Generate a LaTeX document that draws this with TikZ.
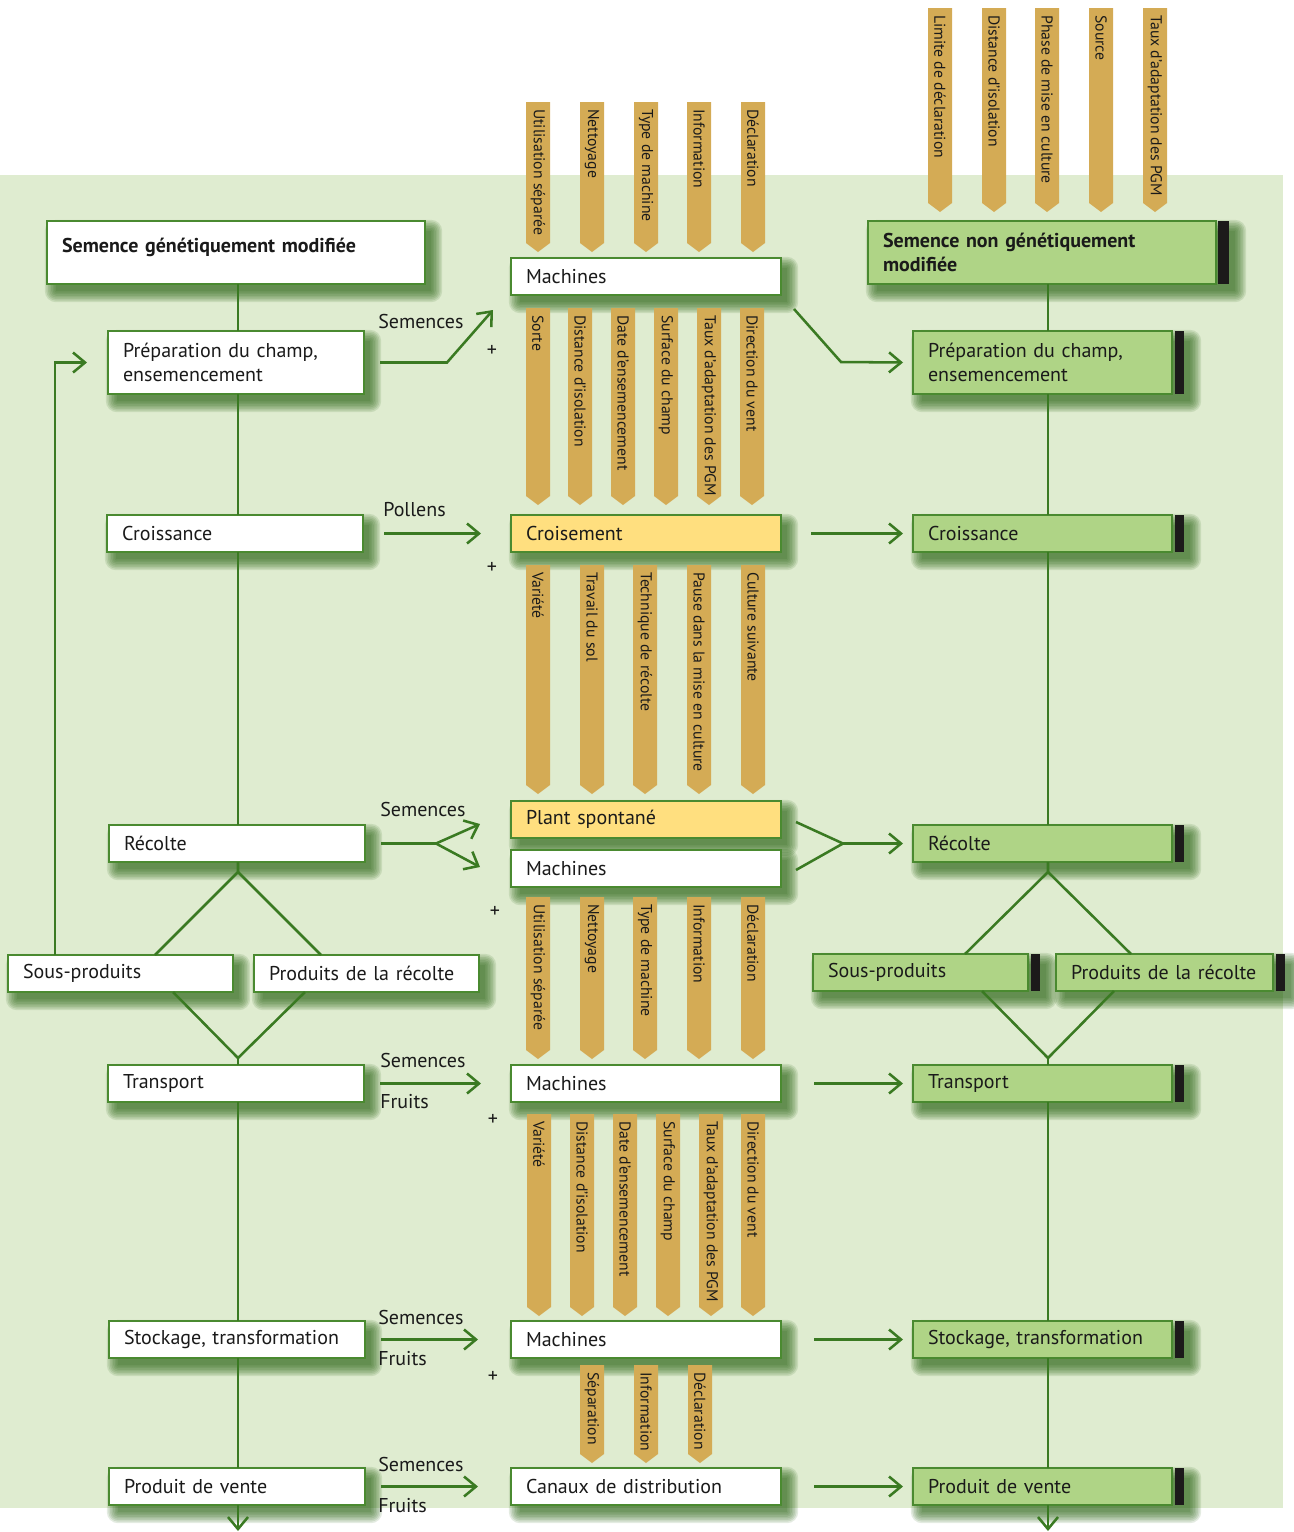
\documentclass[tikz,border=0pt]{standalone}
\usepackage{fontspec}
\setmainfont{PT Sans}
\usetikzlibrary{arrows.meta,calc}
\pgfdeclarelayer{bgl}
\pgfdeclarelayer{shadow}
\pgfsetlayers{bgl,shadow,main}
\definecolor{bgc}{HTML}{DFECD0}
\definecolor{bordc}{HTML}{4A8A30}
\definecolor{linec}{HTML}{3A7A22}
\definecolor{tagc}{HTML}{D4AB55}
\definecolor{yel}{HTML}{FFDF7F}
\definecolor{lgreen}{HTML}{AFD486}
\definecolor{barc}{HTML}{1C1A1A}
\definecolor{shc}{HTML}{2A6414}
\definecolor{txt}{HTML}{1A1A1A}
\tikzset{
 conn/.style={draw=linec, line width=1.9pt},
 arr/.style={conn, -{Straight Barb[length=9pt,width=15pt]}},
 shlayer/.style={fill=shc, opacity=0.13},
 box/.style={draw=bordc, line width=1.1pt, inner xsep=11.25pt, inner ysep=0pt, outer sep=0pt,
   align=left, anchor=north west, text=txt, font=\fontsize{15}{18}\selectfont},
 wbox/.style={box, fill=white},
 ybox/.style={box, fill=yel},
 gbox/.style={box, fill=lgreen},
 hone/.style={minimum height=27.75pt},
 htwo/.style={minimum height=47.25pt},
 wL/.style={text width=169.5pt},
 wLS/.style={text width=261pt},
 wLs/.style={text width=146.25pt},
 wM/.style={text width=180pt},
 wR/.style={text width=171.75pt},
 wRS/.style={text width=238.5pt},
 wRa/.style={text width=138.75pt},
 wRb/.style={text width=140.25pt},
 lab/.style={font=\fontsize{15}{18}\selectfont, text=txt, inner sep=0pt, anchor=west},
 plus/.style={font=\fontsize{15}{15}\selectfont, text=txt, inner sep=0pt},
 tagtext/.style={rotate=-90, anchor=west, inner sep=0pt, font=\fontsize{11.8}{13}\selectfont, text=txt},
 barstyle/.style={fill=barc}
}
\newcommand\shadowof[3]{% node name, right extra, dummy
  \begin{pgfonlayer}{shadow}
  \foreach \i in {0,...,7} {
    \fill[shlayer, rounded corners=\i*1.2pt]
      ($(#1.north west)+(9-1.6*\i,10-1.6*\i)$) rectangle ($(#1.south east)+(6+#2+1.6*\i,7+1.6*\i)$);
  }
  \end{pgfonlayer}}
\newcommand\tagshape[5]{%
  \fill[tagc] (#2-12,#3) -- (#2+12,#3) -- (#2+12,#4-9) -- (#2,#4) -- (#2-12,#4-9) -- cycle;
  \node[tagtext] (#1) at (#2,#3+7) {#5};}
\newcommand\barfor[1]{\path[barstyle] ($(#1.north east)+(3,0)$) rectangle ($(#1.south east)+(12,0)$);}
\begin{document}
\begin{tikzpicture}[x=0.75pt,y=-0.75pt]
\useasboundingbox (0,0) rectangle (1293,1532);
\begin{pgfonlayer}{bgl}
\fill[bgc] (0,175) rectangle (1283,1508);
\end{pgfonlayer}
\coordinate (lx) at (238,0);
\coordinate (rx) at (1048,0);
% left column
\node[wbox,wLS,htwo] (lsem) at (47,221) {\textbf{Semence génétiquement modifiée}\\[-7pt]\mbox{}};
\node[wbox,wL,htwo] (lprep) at (108,331) {Préparation du champ,\\ensemencement};
\node[wbox,wL,hone] (lcroi) at (107,515) {Croissance};
\node[wbox,wL,hone] (lrec) at (109,825) {Récolte};
\node[wbox,wLs,hone] (lsous) at (8,955) {Sous-produits};
\node[wbox,wLs,hone] (lprod) at (254,955) {Produits de la récolte};
\node[wbox,wL,hone] (ltrans) at (108,1065) {Transport};
\node[wbox,wL,hone] (lstock) at (109,1321) {Stockage, transformation};
\node[wbox,wL,hone] (lvente) at (109,1468) {Produit de vente};
% middle column
\node[wbox,wM,hone] (m1) at (511,258) {Machines};
\node[ybox,wM,hone] (mcroi) at (511,515) {Croisement};
\node[ybox,wM,hone] (mplant) at (511,801) {Plant spontané};
\node[wbox,wM,hone] (m2) at (511,850) {Machines};
\node[wbox,wM,hone] (m3) at (511,1065) {Machines};
\node[wbox,wM,hone] (m4) at (511,1321) {Machines};
\node[wbox,wM,hone] (mcan) at (511,1468) {Canaux de distribution};
% right column
\node[gbox,wRS,htwo] (rsem) at (868,221) {\textbf{Semence non génétiquement}\\\textbf{modifiée}};
\node[gbox,wR,htwo] (rprep) at (913,331) {Préparation du champ,\\ensemencement};
\node[gbox,wR,hone] (rcroi) at (913,515) {Croissance};
\node[gbox,wR,hone] (rrec) at (913,825) {Récolte};
\node[gbox,wRa,hone] (rsous) at (813,954) {Sous-produits};
\node[gbox,wRb,hone] (rprod) at (1056,954) {Produits de la récolte};
\node[gbox,wR,hone] (rtrans) at (913,1065) {Transport};
\node[gbox,wR,hone] (rstock) at (913,1321) {Stockage, transformation};
\node[gbox,wR,hone] (rvente) at (913,1468) {Produit de vente};
\path[barstyle] ($(rsem.north east)+(2,0)$) rectangle ($(rsem.south east)+(13,0)$);
\barfor{rprep}\barfor{rcroi}\barfor{rrec}\barfor{rsous}\barfor{rprod}
\barfor{rtrans}\barfor{rstock}\barfor{rvente}
% shadows
\foreach \n in {lsem,lprep,lcroi,lrec,lsous,lprod,ltrans,lstock,lvente,m1,mcroi,mplant,m2,m3,m4,mcan}{\shadowof{\n}{0}{}}
\shadowof{rsem}{13}{}
\foreach \n in {rprep,rcroi,rrec,rsous,rprod,rtrans,rstock,rvente}{\shadowof{\n}{12}{}}
% left connectors
\coordinate (ldtop) at (238,872);
\coordinate (ldbot) at (238,1058);
\draw[conn] (lsem.south -| lx) -- (lprep.north -| lx);
\draw[conn] (lprep.south -| lx) -- (lcroi.north -| lx);
\draw[conn] (lcroi.south -| lx) -- (lrec.north -| lx);
\draw[conn] (lrec.south -| lx) -- (ldtop) -- ($(lsous.north east)+(-78,0)$);
\draw[conn] (ldtop) -- ($(lprod.north west)+(67,0)$);
\draw[conn] ($(lsous.south east)+(-60,0)$) -- (ldbot) -- ($(lprod.south west)+(51,0)$);
\draw[conn] (ldbot) -- (ltrans.north -| lx);
\draw[conn] (ltrans.south -| lx) -- (lstock.north -| lx);
\draw[conn] (lstock.south -| lx) -- (lvente.north -| lx);
\draw[arr] (lvente.south -| lx) -- ++(0,26);
\draw[arr] ($(lsous.north west)+(47,0)$) |- ($(lprep.west)+(-21,0)$);
% right connectors
\coordinate (rdtop) at (1048,872);
\coordinate (rdbot) at (1048,1058);
\draw[conn] (rsem.south -| rx) -- (rprep.north -| rx);
\draw[conn] (rprep.south -| rx) -- (rcroi.north -| rx);
\draw[conn] (rcroi.south -| rx) -- (rrec.north -| rx);
\draw[conn] (rrec.south -| rx) -- (rdtop) -- ($(rsous.north east)+(-63,0)$);
\draw[conn] (rdtop) -- ($(rprod.north west)+(75,0)$);
\draw[conn] ($(rsous.south east)+(-46,0)$) -- (rdbot) -- ($(rprod.south west)+(58,0)$);
\draw[conn] (rdbot) -- (rtrans.north -| rx);
\draw[conn] (rtrans.south -| rx) -- (rstock.north -| rx);
\draw[conn] (rstock.south -| rx) -- (rvente.north -| rx);
\draw[arr] (rvente.south -| rx) -- ++(0,26);
% horizontal flows
\coordinate (m1in) at (493,310);
\coordinate (m1out) at (794,309);
\draw[arr] ($(lprep.east)+(16,0)$) -- ++(67,0) -- (m1in);
\draw[arr] (m1out) -- ++(47,53) -- ($(rprep.west)+(-10,0)$);
\draw[arr] ($(lcroi.east)+(21,0)$) -- ($(mcroi.west)+(-30,0)$);
\draw[arr] ($(mcroi.east)+(30,0)$) -- ($(rcroi.west)+(-10,0)$);
\draw[conn] ($(lrec.east)+(16,0)$) -- ++(55,0) coordinate (fk);
\draw[arr] (fk) -- ($(mplant.west)+(-31,4.5)$);
\draw[arr] (fk) -- ($(m2.west)+(-31,-1.5)$);
\coordinate (jn) at ($(rrec.west)+(-70,0)$);
\draw[conn] ($(mplant.east)+(15,2.5)$) -- (jn) -- ($(m2.east)+(15,1.5)$);
\draw[arr] (jn) -- ($(rrec.west)+(-10,0)$);
\draw[arr] ($(ltrans.east)+(16,0)$) -- ($(m3.west)+(-30,0)$);
\draw[arr] ($(m3.east)+(33,0)$) -- ($(rtrans.west)+(-10,0)$);
\draw[arr] ($(lstock.east)+(16,0)$) -- ($(m4.west)+(-33,0)$);
\draw[arr] ($(m4.east)+(33,0)$) -- ($(rstock.west)+(-10,0)$);
\draw[arr] ($(lvente.east)+(16,0)$) -- ($(mcan.west)+(-33,0)$);
\draw[arr] ($(mcan.east)+(33,0)$) -- ($(rvente.west)+(-10,0)$);
% labels
\node[lab] (lb1) at (378,321) {Semences};
\node[lab] (lb2) at (383,510) {Pollens};
\node[lab] (lb3) at (380,809) {Semences};
\node[lab] (lb4) at (380,1060) {Semences};
\node[lab] (lb5) at (380,1102) {Fruits};
\node[lab] (lb6) at (378,1317) {Semences};
\node[lab] (lb7) at (378,1359) {Fruits};
\node[lab] (lb8) at (378,1464) {Semences};
\node[lab] (lb9) at (378,1506) {Fruits};
\node[plus] (p1) at (492,351) {+};
\node[plus] (p2) at (492,568) {+};
\node[plus] (p3) at (495,912) {+};
\node[plus] (p4) at (493,1120) {+};
\node[plus] (p5) at (493,1377) {+};
% tags above Machines 1
\tagshape{ta1}{538}{102}{252}{Utilisation séparée}
\tagshape{ta2}{592}{102}{252}{Nettoyage}
\tagshape{ta3}{646}{102}{252}{Type de machine}
\tagshape{ta4}{699}{102}{252}{Information}
\tagshape{ta5}{753}{102}{252}{Déclaration}
% tags below Machines 1
\tagshape{tb1}{538}{308}{505}{Sorte}
\tagshape{tb2}{580}{308}{505}{Distance d'isolation}
\tagshape{tb3}{623}{308}{505}{Date d'ensemencement}
\tagshape{tb4}{666}{308}{505}{Surface du champ}
\tagshape{tb5}{709}{308}{505}{Taux d'adaptation des PGM}
\tagshape{tb6}{752}{308}{505}{Direction du vent}
% tags below Croisement
\tagshape{tc1}{538}{565}{794}{Variété}
\tagshape{tc2}{592}{565}{794}{Travail du sol}
\tagshape{tc3}{645}{565}{794}{Technique de récolte}
\tagshape{tc4}{699}{565}{794}{Pause dans la mise en culture}
\tagshape{tc5}{753}{565}{794}{Culture suivante}
% tags below Machines 2
\tagshape{td1}{538}{897}{1059}{Utilisation séparée}
\tagshape{td2}{592}{897}{1059}{Nettoyage}
\tagshape{td3}{645}{897}{1059}{Type de machine}
\tagshape{td4}{699}{897}{1059}{Information}
\tagshape{td5}{753}{897}{1059}{Déclaration}
% tags below Machines 3
\tagshape{te1}{539}{1114}{1316}{Variété}
\tagshape{te2}{582}{1114}{1316}{Distance d'isolation}
\tagshape{te3}{625}{1114}{1316}{Date d'ensemencement}
\tagshape{te4}{668}{1114}{1316}{Surface du champ}
\tagshape{te5}{711}{1114}{1316}{Taux d'adaptation des PGM}
\tagshape{te6}{753}{1114}{1316}{Direction du vent}
% tags below Machines 4
\tagshape{tf1}{592}{1365}{1463}{Séparation}
\tagshape{tf2}{646}{1365}{1463}{Information}
\tagshape{tf3}{700}{1365}{1463}{Déclaration}
% tags above right seed box
\tagshape{tg1}{940}{8}{212}{Limite de déclaration}
\tagshape{tg2}{994}{8}{212}{Distance d'isolation}
\tagshape{tg3}{1047}{8}{212}{Phase de mise en culture}
\tagshape{tg4}{1101}{8}{212}{Source}
\tagshape{tg5}{1155}{8}{212}{Taux d'adaptation des PGM}
\end{tikzpicture}
\end{document}
